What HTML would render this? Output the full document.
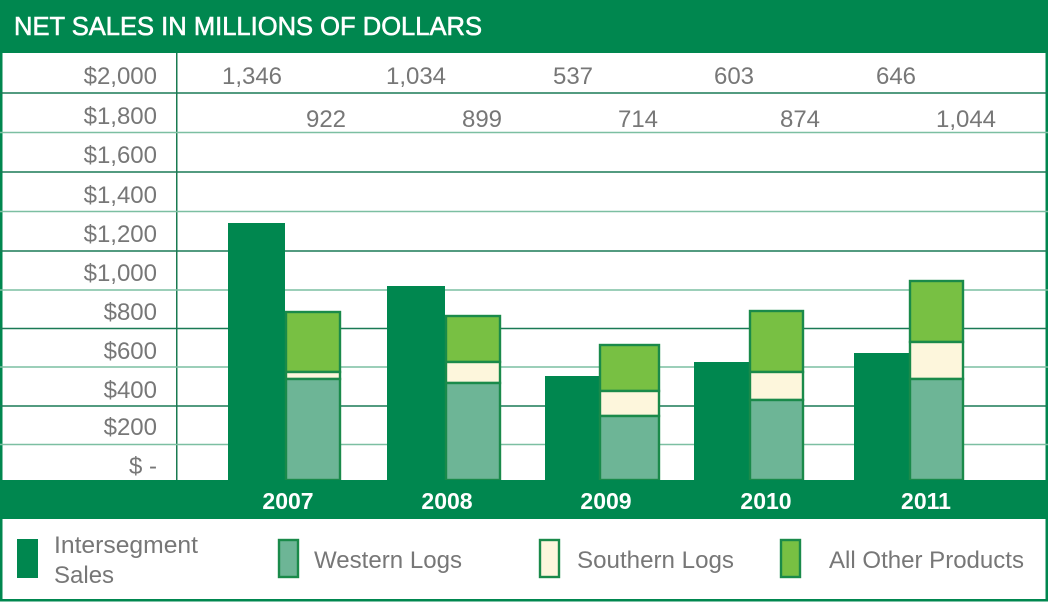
<!DOCTYPE html>
<html><head><meta charset="utf-8"><style>
body{margin:0;background:#fff}
svg{display:block}
text{font-family:"Liberation Sans",sans-serif}
</style></head><body>
<svg width="1048" height="606" viewBox="0 0 1048 606" xmlns="http://www.w3.org/2000/svg">
<rect x="0" y="0" width="1048" height="606" fill="#fff"/>
<rect x="0" y="0" width="1048" height="53" fill="#00874f"/>
<text x="14" y="35" fill="#fff" stroke="#fff" stroke-width="0.6" font-size="26" textLength="468" lengthAdjust="spacingAndGlyphs">NET SALES IN MILLIONS OF DOLLARS</text>
<rect x="0" y="53" width="2.5" height="548" fill="#00874f"/>
<rect x="1045.5" y="53" width="2.5" height="548" fill="#00874f"/>
<rect x="0" y="599" width="1048" height="2.5" fill="#00874f"/>
<rect x="176" y="53" width="1.5" height="427" fill="#1a7a50"/>
<g stroke-width="1.6">
<line x1="0" x2="1048" y1="93" y2="93" stroke="#1a7a56"/>
<line x1="0" x2="1048" y1="132.5" y2="132.5" stroke="#7cbfa2"/>
<line x1="0" x2="1048" y1="172" y2="172" stroke="#1a7a56"/>
<line x1="0" x2="1048" y1="211.5" y2="211.5" stroke="#7cbfa2"/>
<line x1="0" x2="1048" y1="251" y2="251" stroke="#1a7a56"/>
<line x1="0" x2="1048" y1="290" y2="290" stroke="#7cbfa2"/>
<line x1="0" x2="1048" y1="328.5" y2="328.5" stroke="#1a7a56"/>
<line x1="0" x2="1048" y1="367" y2="367" stroke="#7cbfa2"/>
<line x1="0" x2="1048" y1="406" y2="406" stroke="#1a7a56"/>
<line x1="0" x2="1048" y1="444.5" y2="444.5" stroke="#7cbfa2"/>
</g>
<g fill="#777" font-size="24" text-anchor="end">
<text x="157" y="84">$2,000</text>
<text x="157" y="124">$1,800</text>
<text x="157" y="163">$1,600</text>
<text x="157" y="203">$1,400</text>
<text x="157" y="242">$1,200</text>
<text x="157" y="281">$1,000</text>
<text x="157" y="320">$800</text>
<text x="157" y="359">$600</text>
<text x="157" y="398">$400</text>
<text x="157" y="435">$200</text>
<text x="157" y="474">$ -</text>
</g>
<g fill="#777" font-size="24" text-anchor="middle">
<text x="252" y="84">1,346</text>
<text x="416" y="84">1,034</text>
<text x="573" y="84">537</text>
<text x="734" y="84">603</text>
<text x="896" y="84">646</text>
<text x="326" y="127">922</text>
<text x="482" y="127">899</text>
<text x="638" y="127">714</text>
<text x="800" y="127">874</text>
<text x="966" y="127">1,044</text>
</g>
<g fill="#00874f">
<rect x="228" y="223" width="57" height="257"/>
<rect x="387" y="286" width="58" height="194"/>
<rect x="545" y="376" width="55" height="104"/>
<rect x="694" y="362" width="56" height="118"/>
<rect x="854" y="353" width="56" height="127"/>
</g>
<g stroke="#1a8a4a" stroke-width="2.4">
<rect x="286" y="312" width="54" height="60" fill="#78c043"/>
<rect x="286" y="372" width="54" height="7" fill="#fdf6dc"/>
<rect x="286" y="379" width="54" height="101" fill="#6db596"/>
<rect x="446" y="316" width="54" height="46" fill="#78c043"/>
<rect x="446" y="362" width="54" height="21" fill="#fdf6dc"/>
<rect x="446" y="383" width="54" height="97" fill="#6db596"/>
<rect x="600" y="345" width="59" height="46" fill="#78c043"/>
<rect x="600" y="391" width="59" height="25" fill="#fdf6dc"/>
<rect x="600" y="416" width="59" height="64" fill="#6db596"/>
<rect x="750" y="311" width="53" height="61" fill="#78c043"/>
<rect x="750" y="372" width="53" height="28" fill="#fdf6dc"/>
<rect x="750" y="400" width="53" height="80" fill="#6db596"/>
<rect x="910" y="281" width="53" height="61" fill="#78c043"/>
<rect x="910" y="342" width="53" height="37" fill="#fdf6dc"/>
<rect x="910" y="379" width="53" height="101" fill="#6db596"/>
</g>
<rect x="0" y="480" width="1048" height="39" fill="#00874f"/>
<g fill="#fff" font-size="23" font-weight="bold" text-anchor="middle">
<text x="288" y="509">2007</text>
<text x="447" y="509">2008</text>
<text x="606" y="509">2009</text>
<text x="766" y="509">2010</text>
<text x="926" y="509">2011</text>
</g>
<rect x="17" y="539" width="21" height="39" fill="#00874f"/>
<rect x="279" y="540" width="19" height="37" fill="#6db596" stroke="#1a8a4a" stroke-width="2.4"/>
<rect x="540" y="540" width="19" height="37" fill="#fdf6dc" stroke="#1a8a4a" stroke-width="2.4"/>
<rect x="781" y="540" width="19" height="37" fill="#78c043" stroke="#1a8a4a" stroke-width="2.4"/>
<g fill="#777" font-size="24">
<text x="54" y="553" textLength="144" lengthAdjust="spacingAndGlyphs">Intersegment</text>
<text x="54" y="583">Sales</text>
<text x="314" y="568" textLength="148" lengthAdjust="spacingAndGlyphs">Western Logs</text>
<text x="577" y="568" textLength="157" lengthAdjust="spacingAndGlyphs">Southern Logs</text>
<text x="829" y="568" textLength="195" lengthAdjust="spacingAndGlyphs">All Other Products</text>
</g>
</svg>
</body></html>
